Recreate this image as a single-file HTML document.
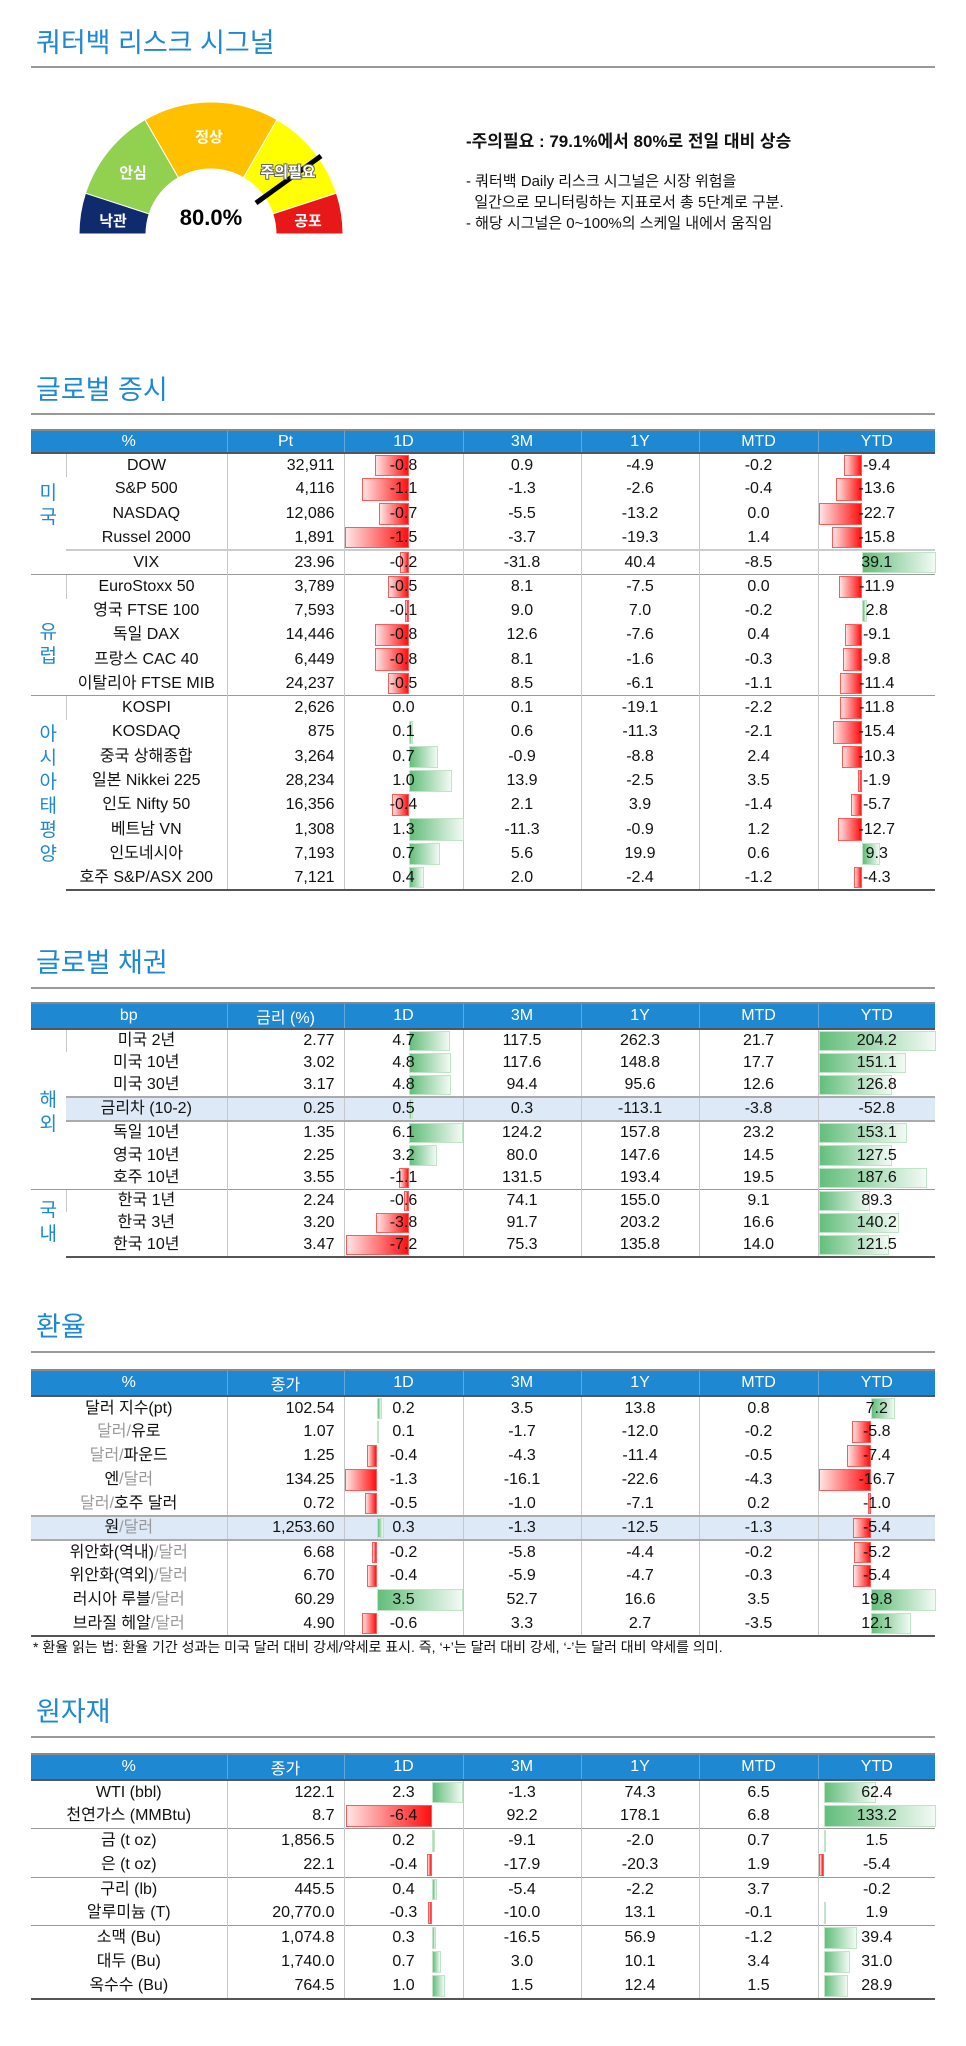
<!DOCTYPE html>
<html><head><meta charset="utf-8">
<style>
*{margin:0;padding:0;box-sizing:border-box}
body{width:966px;height:2046px;background:#fff;position:relative;font-family:"Liberation Sans","Noto Sans CJK KR",sans-serif;color:#111;overflow:hidden}
.h{position:absolute;left:36px;font-size:27px;color:#1e88d2;line-height:30px}
.hl{position:absolute;left:31px;width:904px;height:2px;background:#999}
table{position:absolute;left:31px;width:904px;border-collapse:collapse;table-layout:fixed;font-size:16px}
th{background:#1e88d2;color:#fff;font-weight:normal;height:23px;border-left:1px solid #5fa8dc;border-top:2px solid #888;border-bottom:2px solid #555;font-size:16px}
th:first-child{border-left:none}
td{padding:0;position:relative;text-align:center;border-left:1px solid #c8c8c8;white-space:nowrap;line-height:20px}
td:first-child{border-left:none}
td.r{text-align:right;padding-right:9px}
td>span{position:relative}
td.g{color:#1e88d2;font-size:19px;line-height:24px;white-space:normal;word-break:break-all;padding:0 8px}
table.t1 td{height:24.3px}
table.t2 tr{height:22.4px}
table.t2 td{height:22.4px;line-height:22px}
table.t2 td.g{line-height:24px}
table.t3 td{height:24px}
table.t4 td{height:24.3px}
tr.sep td{border-top:1px solid #999}
tbody tr:last-child td{border-bottom:2px solid #555}
tr.hi td{background:#dde9f6;border-top:2px solid #aaa;border-bottom:2px solid #aaa}
i{position:absolute;top:1px;bottom:1px;display:block}
i.n{right:calc(100% - var(--z));background:linear-gradient(to left,#ff1010,#ffe4e4);border:1px solid #ff5a5a}
i.p{left:var(--z);background:linear-gradient(to right,#63be7b,#f2faf4);border:1px solid #bfe4c8}
.t1 .d{--z:64px}.t1 .y{--z:43px}
.t2 .d{--z:64px}.t2 .y{--z:0px}
.t3 .d{--z:32px}.t3 .y{--z:52px}
.t4 .d{--z:87px}.t4 .y{--z:5px}
.gr{color:#999}
</style></head><body>

<div class="h" style="top:28px">쿼터백 리스크 시그널</div>
<div class="hl" style="top:66px"></div>

<svg style="position:absolute;left:0;top:0" width="480" height="260">
<g stroke="#fff" stroke-width="1">
<path d="M79,234 A132,132 0 0 1 85.5,193.2 L149.2,213.9 A65,65 0 0 0 146,234 Z" fill="#102a6e"/>
<path d="M85.5,193.2 A132,132 0 0 1 145,119.7 L178.5,177.7 A65,65 0 0 0 149.2,213.9 Z" fill="#92d050"/>
<path d="M145,119.7 A132,132 0 0 1 277,119.7 L243.5,177.7 A65,65 0 0 0 178.5,177.7 Z" fill="#ffc000"/>
<path d="M277,119.7 A132,132 0 0 1 336.5,193.2 L272.8,213.9 A65,65 0 0 0 243.5,177.7 Z" fill="#ffff00"/>
<path d="M336.5,193.2 A132,132 0 0 1 343,234 L276,234 A65,65 0 0 0 272.8,213.9 Z" fill="#e81818"/>
</g>
<line x1="256" y1="203" x2="321" y2="156" stroke="#000" stroke-width="5"/>
<g font-family="Liberation Sans, Noto Sans CJK KR, sans-serif" font-size="15" fill="#fff" text-anchor="middle" font-weight="bold">
<text x="113" y="226">낙관</text>
<text x="133" y="178">안심</text>
<text x="209" y="142">정상</text>
<text x="288" y="177" stroke="#666" stroke-width="2" paint-order="stroke">주의필요</text>
<text x="308" y="226">공포</text>
</g>
<text x="211" y="225" font-family="Liberation Sans, sans-serif" font-size="22" font-weight="bold" text-anchor="middle">80.0%</text>
</svg>

<div style="position:absolute;left:466px;top:127px;font-size:17px;font-weight:bold">-주의필요 : 79.1%에서 80%로 전일 대비 상승</div>
<div style="position:absolute;left:466px;top:171px;font-size:15px;line-height:21px">- 쿼터백 Daily 리스크 시그널은 시장 위험을<br>&nbsp;&nbsp;일간으로 모니터링하는 지표로서 총 5단계로 구분.<br>- 해당 시그널은 0~100%의 스케일 내에서 움직임</div>

<!-- 글로벌 증시 -->
<div class="h" style="top:375px">글로벌 증시</div>
<div class="hl" style="top:413px"></div>
<table class="t1" style="top:429px">
<colgroup><col style="width:35px"><col style="width:161px"><col style="width:117px"><col style="width:119px"><col style="width:118px"><col style="width:118px"><col style="width:119px"><col style="width:117px"></colgroup>
<thead><tr><th colspan="2">%</th><th>Pt</th><th>1D</th><th>3M</th><th>1Y</th><th>MTD</th><th>YTD</th></tr></thead>
<tbody>
<tr><td class="g" rowspan="5" style="vertical-align:top;padding-top:28px">미국</td><td>DOW</td><td class="r">32,911</td><td class="d"><i class="n" style="width:34px"></i><span>-0.8</span></td><td>0.9</td><td>-4.9</td><td>-0.2</td><td class="y"><i class="n" style="width:18px"></i><span>-9.4</span></td></tr>
<tr><td>S&amp;P 500</td><td class="r">4,116</td><td class="d"><i class="n" style="width:47px"></i><span>-1.1</span></td><td>-1.3</td><td>-2.6</td><td>-0.4</td><td class="y"><i class="n" style="width:26px"></i><span>-13.6</span></td></tr>
<tr><td>NASDAQ</td><td class="r">12,086</td><td class="d"><i class="n" style="width:30px"></i><span>-0.7</span></td><td>-5.5</td><td>-13.2</td><td>0.0</td><td class="y"><i class="n" style="width:43px"></i><span>-22.7</span></td></tr>
<tr><td>Russel 2000</td><td class="r">1,891</td><td class="d"><i class="n" style="width:64px"></i><span>-1.5</span></td><td>-3.7</td><td>-19.3</td><td>1.4</td><td class="y"><i class="n" style="width:30px"></i><span>-15.8</span></td></tr>
<tr><td style="border-top:2px solid #ccc">VIX</td><td class="r" style="border-top:2px solid #ccc">23.96</td><td class="d" style="border-top:2px solid #ccc"><i class="n" style="width:9px"></i><span>-0.2</span></td><td style="border-top:2px solid #ccc">-31.8</td><td style="border-top:2px solid #ccc">40.4</td><td style="border-top:2px solid #ccc">-8.5</td><td class="y" style="border-top:2px solid #ccc"><i class="p" style="width:74px"></i><span>39.1</span></td></tr>
<tr class="sep"><td class="g" rowspan="5" style="padding-top:20px">유럽</td><td>EuroStoxx 50</td><td class="r">3,789</td><td class="d"><i class="n" style="width:21px"></i><span>-0.5</span></td><td>8.1</td><td>-7.5</td><td>0.0</td><td class="y"><i class="n" style="width:23px"></i><span>-11.9</span></td></tr>
<tr><td>영국 FTSE 100</td><td class="r">7,593</td><td class="d"><i class="n" style="width:4px"></i><span>-0.1</span></td><td>9.0</td><td>7.0</td><td>-0.2</td><td class="y"><i class="p" style="width:5px"></i><span>2.8</span></td></tr>
<tr><td>독일 DAX</td><td class="r">14,446</td><td class="d"><i class="n" style="width:34px"></i><span>-0.8</span></td><td>12.6</td><td>-7.6</td><td>0.4</td><td class="y"><i class="n" style="width:17px"></i><span>-9.1</span></td></tr>
<tr><td>프랑스 CAC 40</td><td class="r">6,449</td><td class="d"><i class="n" style="width:34px"></i><span>-0.8</span></td><td>8.1</td><td>-1.6</td><td>-0.3</td><td class="y"><i class="n" style="width:19px"></i><span>-9.8</span></td></tr>
<tr><td>이탈리아 FTSE MIB</td><td class="r">24,237</td><td class="d"><i class="n" style="width:21px"></i><span>-0.5</span></td><td>8.5</td><td>-6.1</td><td>-1.1</td><td class="y"><i class="n" style="width:22px"></i><span>-11.4</span></td></tr>
<tr class="sep"><td class="g" rowspan="8" style="padding-top:4px">아시아태평양</td><td>KOSPI</td><td class="r">2,626</td><td class="d"><span>0.0</span></td><td>0.1</td><td>-19.1</td><td>-2.2</td><td class="y"><i class="n" style="width:22px"></i><span>-11.8</span></td></tr>
<tr><td>KOSDAQ</td><td class="r">875</td><td class="d"><i class="p" style="width:4px"></i><span>0.1</span></td><td>0.6</td><td>-11.3</td><td>-2.1</td><td class="y"><i class="n" style="width:29px"></i><span>-15.4</span></td></tr>
<tr><td>중국 상해종합</td><td class="r">3,264</td><td class="d"><i class="p" style="width:29px"></i><span>0.7</span></td><td>-0.9</td><td>-8.8</td><td>2.4</td><td class="y"><i class="n" style="width:20px"></i><span>-10.3</span></td></tr>
<tr><td>일본 Nikkei 225</td><td class="r">28,234</td><td class="d"><i class="p" style="width:43px"></i><span>1.0</span></td><td>13.9</td><td>-2.5</td><td>3.5</td><td class="y"><i class="n" style="width:4px"></i><span>-1.9</span></td></tr>
<tr><td>인도 Nifty 50</td><td class="r">16,356</td><td class="d"><i class="n" style="width:17px"></i><span>-0.4</span></td><td>2.1</td><td>3.9</td><td>-1.4</td><td class="y"><i class="n" style="width:11px"></i><span>-5.7</span></td></tr>
<tr><td>베트남 VN</td><td class="r">1,308</td><td class="d"><i class="p" style="width:55px"></i><span>1.3</span></td><td>-11.3</td><td>-0.9</td><td>1.2</td><td class="y"><i class="n" style="width:24px"></i><span>-12.7</span></td></tr>
<tr><td>인도네시아</td><td class="r">7,193</td><td class="d"><i class="p" style="width:31px"></i><span>0.7</span></td><td>5.6</td><td>19.9</td><td>0.6</td><td class="y"><i class="p" style="width:18px"></i><span>9.3</span></td></tr>
<tr><td>호주 S&amp;P/ASX 200</td><td class="r">7,121</td><td class="d"><i class="p" style="width:15px"></i><span>0.4</span></td><td>2.0</td><td>-2.4</td><td>-1.2</td><td class="y"><i class="n" style="width:8px"></i><span>-4.3</span></td></tr>
</tbody></table>

<!-- 글로벌 채권 -->
<div class="h" style="top:948px">글로벌 채권</div>
<div class="hl" style="top:987px"></div>
<table class="t2" style="top:1002px">
<colgroup><col style="width:35px"><col style="width:161px"><col style="width:117px"><col style="width:119px"><col style="width:118px"><col style="width:118px"><col style="width:119px"><col style="width:117px"></colgroup>
<thead><tr><th colspan="2">bp</th><th>금리 (%)</th><th>1D</th><th>3M</th><th>1Y</th><th>MTD</th><th>YTD</th></tr></thead>
<tbody>
<tr><td class="g" rowspan="7" style="padding-top:8px">해외</td><td>미국 2년</td><td class="r">2.77</td><td class="d"><i class="p" style="width:41px"></i><span>4.7</span></td><td>117.5</td><td>262.3</td><td>21.7</td><td class="y"><i class="p" style="width:117px"></i><span>204.2</span></td></tr>
<tr><td>미국 10년</td><td class="r">3.02</td><td class="d"><i class="p" style="width:42px"></i><span>4.8</span></td><td>117.6</td><td>148.8</td><td>17.7</td><td class="y"><i class="p" style="width:87px"></i><span>151.1</span></td></tr>
<tr><td>미국 30년</td><td class="r">3.17</td><td class="d"><i class="p" style="width:42px"></i><span>4.8</span></td><td>94.4</td><td>95.6</td><td>12.6</td><td class="y"><i class="p" style="width:73px"></i><span>126.8</span></td></tr>
<tr class="hi"><td>금리차 (10-2)</td><td class="r">0.25</td><td class="d"><i class="p" style="width:4px"></i><span>0.5</span></td><td>0.3</td><td>-113.1</td><td>-3.8</td><td class="y"><span>-52.8</span></td></tr>
<tr><td>독일 10년</td><td class="r">1.35</td><td class="d"><i class="p" style="width:54px"></i><span>6.1</span></td><td>124.2</td><td>157.8</td><td>23.2</td><td class="y"><i class="p" style="width:88px"></i><span>153.1</span></td></tr>
<tr><td>영국 10년</td><td class="r">2.25</td><td class="d"><i class="p" style="width:28px"></i><span>3.2</span></td><td>80.0</td><td>147.6</td><td>14.5</td><td class="y"><i class="p" style="width:73px"></i><span>127.5</span></td></tr>
<tr><td>호주 10년</td><td class="r">3.55</td><td class="d"><i class="n" style="width:10px"></i><span>-1.1</span></td><td>131.5</td><td>193.4</td><td>19.5</td><td class="y"><i class="p" style="width:108px"></i><span>187.6</span></td></tr>
<tr class="sep"><td class="g" rowspan="3">국내</td><td>한국 1년</td><td class="r">2.24</td><td class="d"><i class="n" style="width:5px"></i><span>-0.6</span></td><td>74.1</td><td>155.0</td><td>9.1</td><td class="y"><i class="p" style="width:51px"></i><span>89.3</span></td></tr>
<tr><td>한국 3년</td><td class="r">3.20</td><td class="d"><i class="n" style="width:33px"></i><span>-3.8</span></td><td>91.7</td><td>203.2</td><td>16.6</td><td class="y"><i class="p" style="width:80px"></i><span>140.2</span></td></tr>
<tr><td>한국 10년</td><td class="r">3.47</td><td class="d"><i class="n" style="width:63px"></i><span>-7.2</span></td><td>75.3</td><td>135.8</td><td>14.0</td><td class="y"><i class="p" style="width:70px"></i><span>121.5</span></td></tr>
</tbody></table>

<!-- 환율 -->
<div class="h" style="top:1312px">환율</div>
<div class="hl" style="top:1351px"></div>
<table class="t3" style="top:1369px">
<colgroup><col style="width:35px"><col style="width:161px"><col style="width:117px"><col style="width:119px"><col style="width:118px"><col style="width:118px"><col style="width:119px"><col style="width:117px"></colgroup>
<thead><tr><th colspan="2">%</th><th>종가</th><th>1D</th><th>3M</th><th>1Y</th><th>MTD</th><th>YTD</th></tr></thead>
<tbody>
<tr><td colspan="2">달러 지수(pt)</td><td class="r">102.54</td><td class="d"><i class="p" style="width:5px"></i><span>0.2</span></td><td>3.5</td><td>13.8</td><td>0.8</td><td class="y"><i class="p" style="width:24px"></i><span>7.2</span></td></tr>
<tr><td colspan="2"><span class="gr">달러/</span>유로</td><td class="r">1.07</td><td class="d"><i class="p" style="width:2px"></i><span>0.1</span></td><td>-1.7</td><td>-12.0</td><td>-0.2</td><td class="y"><i class="n" style="width:19px"></i><span>-5.8</span></td></tr>
<tr><td colspan="2"><span class="gr">달러/</span>파운드</td><td class="r">1.25</td><td class="d"><i class="n" style="width:10px"></i><span>-0.4</span></td><td>-4.3</td><td>-11.4</td><td>-0.5</td><td class="y"><i class="n" style="width:24px"></i><span>-7.4</span></td></tr>
<tr><td colspan="2">엔<span class="gr">/달러</span></td><td class="r">134.25</td><td class="d"><i class="n" style="width:32px"></i><span>-1.3</span></td><td>-16.1</td><td>-22.6</td><td>-4.3</td><td class="y"><i class="n" style="width:52px"></i><span>-16.7</span></td></tr>
<tr><td colspan="2"><span class="gr">달러/</span>호주 달러</td><td class="r">0.72</td><td class="d"><i class="n" style="width:12px"></i><span>-0.5</span></td><td>-1.0</td><td>-7.1</td><td>0.2</td><td class="y"><i class="n" style="width:3px"></i><span>-1.0</span></td></tr>
<tr class="hi"><td colspan="2">원<span class="gr">/달러</span></td><td class="r">1,253.60</td><td class="d"><i class="p" style="width:7px"></i><span>0.3</span></td><td>-1.3</td><td>-12.5</td><td>-1.3</td><td class="y"><i class="n" style="width:18px"></i><span>-5.4</span></td></tr>
<tr><td colspan="2">위안화(역내)<span class="gr">/달러</span></td><td class="r">6.68</td><td class="d"><i class="n" style="width:5px"></i><span>-0.2</span></td><td>-5.8</td><td>-4.4</td><td>-0.2</td><td class="y"><i class="n" style="width:17px"></i><span>-5.2</span></td></tr>
<tr><td colspan="2">위안화(역외)<span class="gr">/달러</span></td><td class="r">6.70</td><td class="d"><i class="n" style="width:10px"></i><span>-0.4</span></td><td>-5.9</td><td>-4.7</td><td>-0.3</td><td class="y"><i class="n" style="width:18px"></i><span>-5.4</span></td></tr>
<tr><td colspan="2">러시아 루블<span class="gr">/달러</span></td><td class="r">60.29</td><td class="d"><i class="p" style="width:86px"></i><span>3.5</span></td><td>52.7</td><td>16.6</td><td>3.5</td><td class="y"><i class="p" style="width:65px"></i><span>19.8</span></td></tr>
<tr><td colspan="2">브라질 헤알<span class="gr">/달러</span></td><td class="r">4.90</td><td class="d"><i class="n" style="width:15px"></i><span>-0.6</span></td><td>3.3</td><td>2.7</td><td>-3.5</td><td class="y"><i class="p" style="width:40px"></i><span>12.1</span></td></tr>
</tbody></table>
<div style="position:absolute;left:33px;top:1637px;font-size:14px;line-height:20px">* 환율 읽는 법: 환율 기간 성과는 미국 달러 대비 강세/약세로 표시. 즉, ‘+’는 달러 대비 강세, ‘-’는 달러 대비 약세를 의미.</div>

<!-- 원자재 -->
<div class="h" style="top:1697px">원자재</div>
<div class="hl" style="top:1736px"></div>
<table class="t4" style="top:1753px">
<colgroup><col style="width:35px"><col style="width:161px"><col style="width:117px"><col style="width:119px"><col style="width:118px"><col style="width:118px"><col style="width:119px"><col style="width:117px"></colgroup>
<thead><tr><th colspan="2">%</th><th>종가</th><th>1D</th><th>3M</th><th>1Y</th><th>MTD</th><th>YTD</th></tr></thead>
<tbody>
<tr><td colspan="2">WTI (bbl)</td><td class="r">122.1</td><td class="d"><i class="p" style="width:31px"></i><span>2.3</span></td><td>-1.3</td><td>74.3</td><td>6.5</td><td class="y"><i class="p" style="width:52px"></i><span>62.4</span></td></tr>
<tr><td colspan="2">천연가스 (MMBtu)</td><td class="r">8.7</td><td class="d"><i class="n" style="width:86px"></i><span>-6.4</span></td><td>92.2</td><td>178.1</td><td>6.8</td><td class="y"><i class="p" style="width:112px"></i><span>133.2</span></td></tr>
<tr class="sep"><td colspan="2">금 (t oz)</td><td class="r">1,856.5</td><td class="d"><i class="p" style="width:3px"></i><span>0.2</span></td><td>-9.1</td><td>-2.0</td><td>0.7</td><td class="y"><i class="p" style="width:1px"></i><span>1.5</span></td></tr>
<tr><td colspan="2">은 (t oz)</td><td class="r">22.1</td><td class="d"><i class="n" style="width:5px"></i><span>-0.4</span></td><td>-17.9</td><td>-20.3</td><td>1.9</td><td class="y"><i class="n" style="width:5px"></i><span>-5.4</span></td></tr>
<tr class="sep"><td colspan="2">구리 (lb)</td><td class="r">445.5</td><td class="d"><i class="p" style="width:5px"></i><span>0.4</span></td><td>-5.4</td><td>-2.2</td><td>3.7</td><td class="y"><span>-0.2</span></td></tr>
<tr><td colspan="2">알루미늄 (T)</td><td class="r">20,770.0</td><td class="d"><i class="n" style="width:4px"></i><span>-0.3</span></td><td>-10.0</td><td>13.1</td><td>-0.1</td><td class="y"><i class="p" style="width:2px"></i><span>1.9</span></td></tr>
<tr class="sep"><td colspan="2">소맥 (Bu)</td><td class="r">1,074.8</td><td class="d"><i class="p" style="width:4px"></i><span>0.3</span></td><td>-16.5</td><td>56.9</td><td>-1.2</td><td class="y"><i class="p" style="width:33px"></i><span>39.4</span></td></tr>
<tr><td colspan="2">대두 (Bu)</td><td class="r">1,740.0</td><td class="d"><i class="p" style="width:9px"></i><span>0.7</span></td><td>3.0</td><td>10.1</td><td>3.4</td><td class="y"><i class="p" style="width:26px"></i><span>31.0</span></td></tr>
<tr><td colspan="2">옥수수 (Bu)</td><td class="r">764.5</td><td class="d"><i class="p" style="width:13px"></i><span>1.0</span></td><td>1.5</td><td>12.4</td><td>1.5</td><td class="y"><i class="p" style="width:24px"></i><span>28.9</span></td></tr>
</tbody></table>
</body></html>
